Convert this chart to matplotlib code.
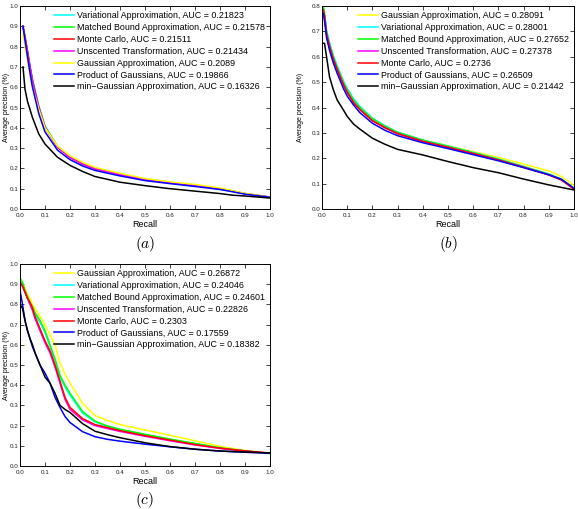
import matplotlib
matplotlib.use('Agg')
import matplotlib.pyplot as plt

plt.rcParams['font.family'] = ['Liberation Sans', 'DejaVu Sans']
plt.rcParams['mathtext.fontset'] = 'cm'

# (a) のデータ
recall_a = [0.012, 0.02, 0.03, 0.04, 0.05, 0.075, 0.1, 0.15, 0.2, 0.25, 0.3, 0.4, 0.5, 0.6, 0.7, 0.8, 0.85, 0.9, 1.0]
var_a = [0.90, 0.85, 0.78, 0.71, 0.64, 0.51, 0.41, 0.31, 0.258, 0.225, 0.202, 0.173, 0.148, 0.132, 0.118, 0.101, 0.089, 0.076, 0.058]
mb_a = [0.90, 0.85, 0.78, 0.70, 0.635, 0.505, 0.405, 0.307, 0.256, 0.223, 0.200, 0.171, 0.146, 0.131, 0.117, 0.100, 0.088, 0.076, 0.058]
mc_a = [0.90, 0.845, 0.775, 0.70, 0.63, 0.50, 0.403, 0.305, 0.255, 0.222, 0.199, 0.170, 0.146, 0.130, 0.116, 0.100, 0.088, 0.075, 0.058]
ut_a = [0.90, 0.845, 0.775, 0.70, 0.63, 0.50, 0.402, 0.304, 0.254, 0.221, 0.198, 0.170, 0.145, 0.130, 0.116, 0.099, 0.088, 0.076, 0.059]
ga_a = [0.86, 0.80, 0.73, 0.66, 0.60, 0.49, 0.40, 0.31, 0.262, 0.23, 0.205, 0.176, 0.150, 0.134, 0.121, 0.104, 0.090, 0.077, 0.058]
pog_a = [0.90, 0.83, 0.75, 0.67, 0.60, 0.47, 0.38, 0.29, 0.243, 0.212, 0.190, 0.163, 0.140, 0.125, 0.111, 0.096, 0.085, 0.073, 0.058]
ming_a = [0.70, 0.59, 0.53, 0.49, 0.45, 0.37, 0.32, 0.255, 0.215, 0.185, 0.160, 0.132, 0.115, 0.100, 0.088, 0.076, 0.068, 0.064, 0.054]

# (b) のデータ
recall_b = [0.005, 0.01, 0.018, 0.03, 0.045, 0.06, 0.085, 0.1, 0.125, 0.15, 0.2, 0.25, 0.3, 0.4, 0.5, 0.6, 0.7, 0.8, 0.9, 0.95, 1.0]
ga_b = [0.80, 0.77, 0.70, 0.65, 0.60, 0.56, 0.50, 0.47, 0.43, 0.40, 0.355, 0.325, 0.302, 0.272, 0.249, 0.226, 0.203, 0.177, 0.150, 0.128, 0.092]
var_b = [0.80, 0.775, 0.705, 0.655, 0.605, 0.565, 0.505, 0.475, 0.435, 0.405, 0.358, 0.328, 0.303, 0.272, 0.248, 0.223, 0.197, 0.168, 0.138, 0.118, 0.080]
mb_b = [0.80, 0.77, 0.70, 0.65, 0.60, 0.56, 0.50, 0.47, 0.43, 0.40, 0.356, 0.326, 0.302, 0.271, 0.247, 0.222, 0.196, 0.167, 0.137, 0.117, 0.079]
ut_b = [0.785, 0.76, 0.69, 0.64, 0.59, 0.55, 0.49, 0.46, 0.42, 0.392, 0.348, 0.32, 0.297, 0.267, 0.243, 0.219, 0.193, 0.165, 0.135, 0.116, 0.079]
mc_b = [0.785, 0.76, 0.69, 0.64, 0.59, 0.55, 0.49, 0.46, 0.42, 0.392, 0.348, 0.32, 0.297, 0.266, 0.243, 0.218, 0.193, 0.164, 0.134, 0.114, 0.078]
pog_b = [0.77, 0.74, 0.675, 0.625, 0.575, 0.535, 0.475, 0.445, 0.41, 0.38, 0.338, 0.31, 0.289, 0.261, 0.238, 0.214, 0.190, 0.163, 0.135, 0.117, 0.082]
ming_b = [0.653, 0.653, 0.60, 0.52, 0.47, 0.43, 0.39, 0.365, 0.335, 0.315, 0.279, 0.255, 0.235, 0.213, 0.187, 0.163, 0.143, 0.118, 0.095, 0.085, 0.075]

# (c) のデータ
recall_c = [0.0, 0.01, 0.02, 0.03, 0.04, 0.05, 0.06, 0.08, 0.1, 0.12, 0.14, 0.16, 0.18, 0.2, 0.25, 0.3, 0.35, 0.4, 0.5, 0.6, 0.7, 0.8, 0.9, 1.0]
ga_c = [0.93, 0.91, 0.88, 0.85, 0.83, 0.80, 0.78, 0.74, 0.70, 0.65, 0.60, 0.51, 0.455, 0.41, 0.31, 0.25, 0.225, 0.205, 0.178, 0.152, 0.125, 0.097, 0.077, 0.063]
var_c = [0.92, 0.90, 0.86, 0.83, 0.80, 0.78, 0.75, 0.71, 0.66, 0.59, 0.52, 0.44, 0.39, 0.35, 0.262, 0.218, 0.195, 0.179, 0.155, 0.131, 0.110, 0.089, 0.074, 0.062]
mb_c = [0.93, 0.91, 0.87, 0.84, 0.81, 0.79, 0.76, 0.72, 0.67, 0.60, 0.53, 0.45, 0.40, 0.36, 0.27, 0.222, 0.198, 0.182, 0.157, 0.133, 0.112, 0.090, 0.075, 0.062]
ut_c = [0.91, 0.89, 0.86, 0.83, 0.80, 0.77, 0.73, 0.67, 0.61, 0.56, 0.49, 0.41, 0.33, 0.28, 0.228, 0.200, 0.185, 0.171, 0.147, 0.125, 0.104, 0.087, 0.074, 0.063]
mc_c = [0.91, 0.89, 0.86, 0.83, 0.81, 0.78, 0.74, 0.68, 0.62, 0.57, 0.50, 0.42, 0.34, 0.29, 0.235, 0.205, 0.190, 0.175, 0.150, 0.128, 0.106, 0.088, 0.075, 0.063]
pog_c = [0.87, 0.80, 0.72, 0.67, 0.63, 0.59, 0.56, 0.50, 0.46, 0.41, 0.34, 0.29, 0.245, 0.215, 0.17, 0.145, 0.132, 0.123, 0.108, 0.095, 0.083, 0.074, 0.068, 0.063]
ming_c = [0.80, 0.78, 0.72, 0.67, 0.63, 0.60, 0.56, 0.50, 0.44, 0.41, 0.36, 0.30, 0.28, 0.265, 0.21, 0.172, 0.155, 0.140, 0.115, 0.096, 0.083, 0.074, 0.069, 0.065]

labels_a = ['Variational Approximation, AUC = 0.21823',
            'Matched Bound Approximation, AUC = 0.21578',
            'Monte Carlo, AUC = 0.21511',
            'Unscented Transformation, AUC = 0.21434',
            'Gaussian Approximation, AUC = 0.2089',
            'Product of Gaussians, AUC = 0.19866',
            'min\u2212Gaussian Approximation, AUC = 0.16326']
labels_b = ['Gaussian Approximation, AUC = 0.28091',
            'Variational Approximation, AUC = 0.28001',
            'Matched Bound Approximation, AUC = 0.27652',
            'Unscented Transformation, AUC = 0.27378',
            'Monte Carlo, AUC = 0.2736',
            'Product of Gaussians, AUC = 0.26509',
            'min\u2212Gaussian Approximation, AUC = 0.21442']
labels_c = ['Gaussian Approximation, AUC = 0.26872',
            'Variational Approximation, AUC = 0.24046',
            'Matched Bound Approximation, AUC = 0.24601',
            'Unscented Transformation, AUC = 0.22826',
            'Monte Carlo, AUC = 0.2303',
            'Product of Gaussians, AUC = 0.17559',
            'min\u2212Gaussian Approximation, AUC = 0.18382']

colors_a = ['#00ffff', '#00ff00', '#ff0000', '#ff00ff', '#ffff00', '#0000ff', '#000000']
colors_b = ['#ffff00', '#00ffff', '#00ff00', '#ff00ff', '#ff0000', '#0000ff', '#000000']
colors_c = ['#ffff00', '#00ffff', '#00ff00', '#ff00ff', '#ff0000', '#0000ff', '#000000']


def draw_panel(ax, recall, series, labels, colors, ymax, caption, ylab_x):
    # 曲線を描画
    for y, lab, c in zip(series, labels, colors):
        ax.plot(recall[-len(y):], y, color=c, lw=1.1, label=lab)
    ax.set_xlim(0, 1)
    ax.set_ylim(0, ymax)
    ax.set_xticks([i / 10 for i in range(11)])
    ax.set_yticks([i / 10 for i in range(int(round(ymax * 10)) + 1)])
    ax.tick_params(direction='in', top=True, right=True, length=3, width=0.6,
                   labelsize=4.5, pad=1.0, colors='#222222')
    ax.tick_params(axis='x', pad=3.0)
    for s in ax.spines.values():
        s.set_linewidth(0.7)
    ax.set_xlabel('Recall', fontsize=6.5, labelpad=1.0)
    ax.set_ylabel('Average precision (%)', fontsize=5)
    ax.yaxis.set_label_coords(ylab_x, 0.5)
    ax.legend(loc='upper right', bbox_to_anchor=(1.0, 1.0), frameon=False,
              fontsize=6.4, handlelength=2.3, handletextpad=0.3,
              labelspacing=0.32, borderaxespad=0.4, borderpad=0.2)
    ax.text(0.5, -0.17, caption, transform=ax.transAxes, ha='center', va='center', fontsize=11)


fig = plt.figure(figsize=(5.78, 5.09), dpi=100)
ax_a = fig.add_axes([0.0346, 0.5894, 0.4325, 0.3988])
ax_b = fig.add_axes([0.5571, 0.5894, 0.4360, 0.3988])
ax_c = fig.add_axes([0.0346, 0.0845, 0.4325, 0.3969])

draw_panel(ax_a, recall_a, [var_a, mb_a, mc_a, ut_a, ga_a, pog_a, ming_a], labels_a, colors_a, 1.0, '$(a)$', -0.041)
draw_panel(ax_b, recall_b, [ga_b, var_b, mb_b, ut_b, mc_b, pog_b, ming_b], labels_b, colors_b, 0.8, '$(b)$', -0.07)
draw_panel(ax_c, recall_c, [ga_c, var_c, mb_c, ut_c, mc_c, pog_c, ming_c], labels_c, colors_c, 1.0, '$(c)$', -0.041)

fig.savefig('out.png', dpi=100)
